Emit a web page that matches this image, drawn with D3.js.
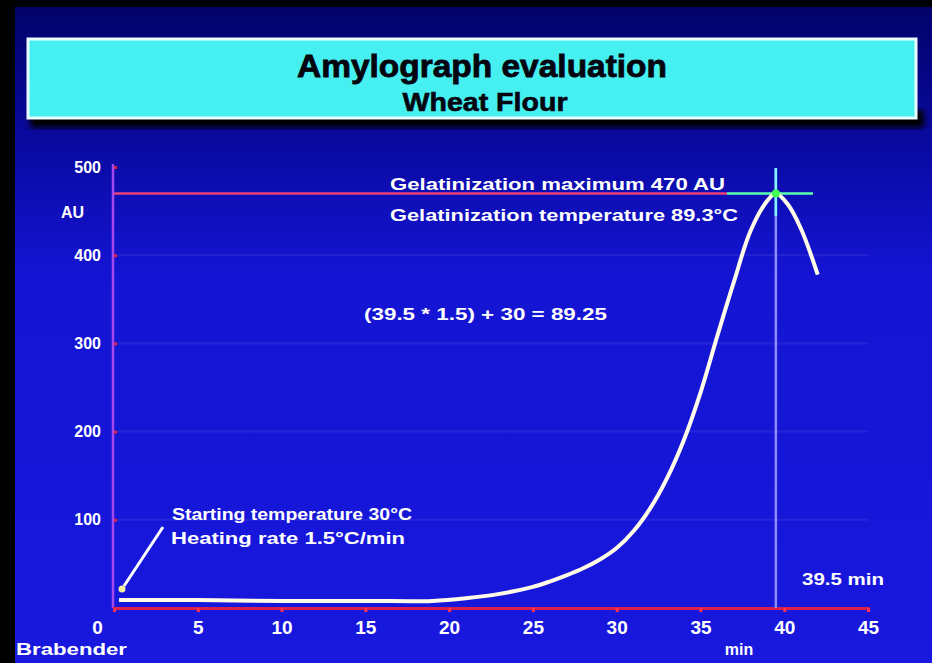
<!DOCTYPE html>
<html>
<head>
  <title>Amylograph evaluation</title>
  <style>
    body { margin: 0; background: #000; }
    svg { display: block; }
    text { font-family: "Liberation Sans", Arial, sans-serif; font-weight: bold; }
  </style>
</head>
<body>
  <svg width="932" height="663" class="svg-chart"></svg>
<script src="https://cdn.jsdelivr.net/npm/d3@7/dist/d3.min.js"></script>
<script type="text/javascript">
  // curve: minutes vs Brabender units
  var minutes = [0.3, 5, 10, 15, 19, 21, 23, 25, 26, 27, 28, 29, 30, 31, 32, 33, 34, 35, 36, 37, 38, 39, 39.5, 40.2, 41, 42]
  var units = [9, 9, 8, 8, 8, 11, 16, 24, 30, 37, 45, 55, 68, 87, 113, 147, 190, 244, 308, 370, 428, 462, 470, 458, 430, 378]
  var xTicks = [0, 5, 10, 15, 20, 25, 30, 35, 40, 45]
  var yTicks = [100, 200, 300, 400, 500]
  var peakMin = 39.5
  var peakAU = 470

  var svg = d3.select('.svg-chart')
  var defs = svg.append('defs')

  var grad = defs.append('linearGradient').attr('id', 'bg').attr('x1', 0).attr('y1', 0).attr('x2', 0).attr('y2', 1)
  grad.append('stop').attr('offset', '0%').attr('stop-color', '#02026a')
  grad.append('stop').attr('offset', '22%').attr('stop-color', '#0a0aa4')
  grad.append('stop').attr('offset', '40%').attr('stop-color', '#1414d2')
  grad.append('stop').attr('offset', '100%').attr('stop-color', '#1818de')

  defs.append('filter').attr('id', 'blur')
    .append('feGaussianBlur').attr('stdDeviation', 3)

  svg.append('rect').attr('width', 932).attr('height', 663).attr('fill', '#000')
  svg.append('rect').attr('x', 15).attr('y', 7).attr('width', 917).attr('height', 656).attr('fill', 'url(#bg)')

  // title box
  svg.append('rect').attr('x', 30).attr('y', 110).attr('width', 894).attr('height', 18)
    .attr('fill', '#000').attr('filter', 'url(#blur)')
  svg.append('rect').attr('x', 28).attr('y', 39).attr('width', 888).attr('height', 79)
    .attr('fill', '#46f0f0').attr('stroke', '#eaffff').attr('stroke-width', 3)
  svg.append('text').attr('x', 482).attr('y', 77).attr('text-anchor', 'middle')
    .attr('font-size', 32).attr('fill', '#050510').attr('stroke', '#050510').attr('stroke-width', 0.8)
    .attr('textLength', 370).attr('lengthAdjust', 'spacingAndGlyphs')
    .text('Amylograph evaluation')
  svg.append('text').attr('x', 485).attr('y', 111).attr('text-anchor', 'middle')
    .attr('font-size', 25).attr('fill', '#050510').attr('stroke', '#050510').attr('stroke-width', 0.6)
    .attr('textLength', 165).attr('lengthAdjust', 'spacingAndGlyphs')
    .text('Wheat Flour')

  var x = d3.scaleLinear().domain([0, 45]).range([114, 868])
  var y = d3.scaleLinear().domain([0, 500]).range([608, 167])

  // faint grid
  svg.append('g').selectAll('line').data(yTicks.slice(0, 4)).enter().append('line')
    .attr('x1', x(0)).attr('x2', x(45))
    .attr('y1', function(d){ return y(d) }).attr('y2', function(d){ return y(d) })
    .attr('stroke', '#ffffff').attr('stroke-opacity', 0.07).attr('stroke-width', 2)

  // y axis
  var yAxis = svg.append('g').attr('transform', 'translate(' + x(0) + ',0)')
    .call(d3.axisLeft(y).tickValues(yTicks).tickSize(6).tickPadding(7))
  yAxis.select('.domain').remove()
  yAxis.selectAll('line').attr('stroke', '#e0203a').attr('stroke-width', 3).attr('x2', 3)
  yAxis.selectAll('text').attr('fill', '#fff').attr('font-size', 16).attr('font-family', null)
  svg.append('line').attr('x1', x(0) - 1).attr('x2', x(0) - 1).attr('y1', 164).attr('y2', y(0))
    .attr('stroke', '#a448ee').attr('stroke-width', 2.5)
  svg.append('text').attr('x', 84).attr('y', 218).attr('text-anchor', 'end')
    .attr('font-size', 16).attr('fill', '#fff').text('AU')

  // x axis
  var xAxis = svg.append('g').attr('transform', 'translate(0,' + y(0) + ')')
    .call(d3.axisBottom(x).tickValues(xTicks).tickSize(4).tickPadding(9))
  xAxis.select('.domain').attr('stroke', '#d8204a').attr('stroke-width', 3)
  xAxis.selectAll('line').attr('stroke', '#ff3050').attr('stroke-width', 3)
  xAxis.selectAll('text').attr('fill', '#fff').attr('font-size', 19).attr('font-family', null)
    .attr('dx', function(d){ return d === 0 ? -17 : 0 })
  svg.append('text').attr('x', 16).attr('y', 655)
    .attr('font-size', 17).attr('fill', '#fff')
    .attr('textLength', 111).attr('lengthAdjust', 'spacingAndGlyphs').text('Brabender')
  svg.append('text').attr('x', 739).attr('y', 655).attr('text-anchor', 'middle')
    .attr('font-size', 16).attr('fill', '#fff').text('min')

  // gelatinization maximum guides
  svg.append('line').attr('x1', x(0)).attr('x2', 727).attr('y1', y(peakAU)).attr('y2', y(peakAU))
    .attr('stroke', '#e8407a').attr('stroke-width', 2.5)
  svg.append('line').attr('x1', x(peakMin)).attr('x2', x(peakMin)).attr('y1', 168).attr('y2', y(0))
    .attr('stroke', '#8c8cff').attr('stroke-width', 2.5)
  svg.append('line').attr('x1', 727).attr('x2', 813).attr('y1', y(peakAU)).attr('y2', y(peakAU))
    .attr('stroke', '#5cffb0').attr('stroke-width', 2.5)
  svg.append('line').attr('x1', x(peakMin)).attr('x2', x(peakMin)).attr('y1', 168).attr('y2', 216)
    .attr('stroke', '#7ff6ff').attr('stroke-width', 2.5)

  // curve
  var line = d3.line()
    .x(function(d){ return x(d[0]) })
    .y(function(d){ return y(d[1]) })
    .curve(d3.curveCatmullRom.alpha(0.5))
  svg.append('path').datum(d3.zip(minutes, units))
    .attr('d', line).attr('fill', 'none')
    .attr('stroke', '#fffbe6').attr('stroke-width', 4).attr('stroke-linejoin', 'round')
  svg.append('circle').attr('cx', x(peakMin)).attr('cy', y(peakAU)).attr('r', 4).attr('fill', '#40ff50')

  // annotations
  var notes = [
    {t: 'Gelatinization maximum 470 AU', x: 390, y: 190, w: 335},
    {t: 'Gelatinization temperature 89.3\u00b0C', x: 390, y: 221, w: 348},
    {t: '(39.5 * 1.5) + 30 = 89.25', x: 364, y: 320, w: 243},
    {t: 'Starting temperature 30\u00b0C', x: 172, y: 520, w: 240},
    {t: 'Heating rate 1.5\u00b0C/min', x: 171, y: 544, w: 234},
    {t: '39.5 min', x: 802, y: 585, w: 82}
  ]
  svg.append('g').selectAll('text').data(notes).enter().append('text')
    .attr('x', function(d){ return d.x }).attr('y', function(d){ return d.y })
    .attr('textLength', function(d){ return d.w }).attr('lengthAdjust', 'spacingAndGlyphs')
    .attr('font-size', 17).attr('fill', '#fff')
    .text(function(d){ return d.t })

  // arrow to start of curve
  svg.append('line').attr('x1', 163).attr('y1', 527).attr('x2', 124).attr('y2', 586)
    .attr('stroke', '#fff').attr('stroke-width', 3)
  svg.append('circle').attr('cx', 122).attr('cy', 589).attr('r', 3.5).attr('fill', '#f4f0a0')
</script>
</body>
</html>
